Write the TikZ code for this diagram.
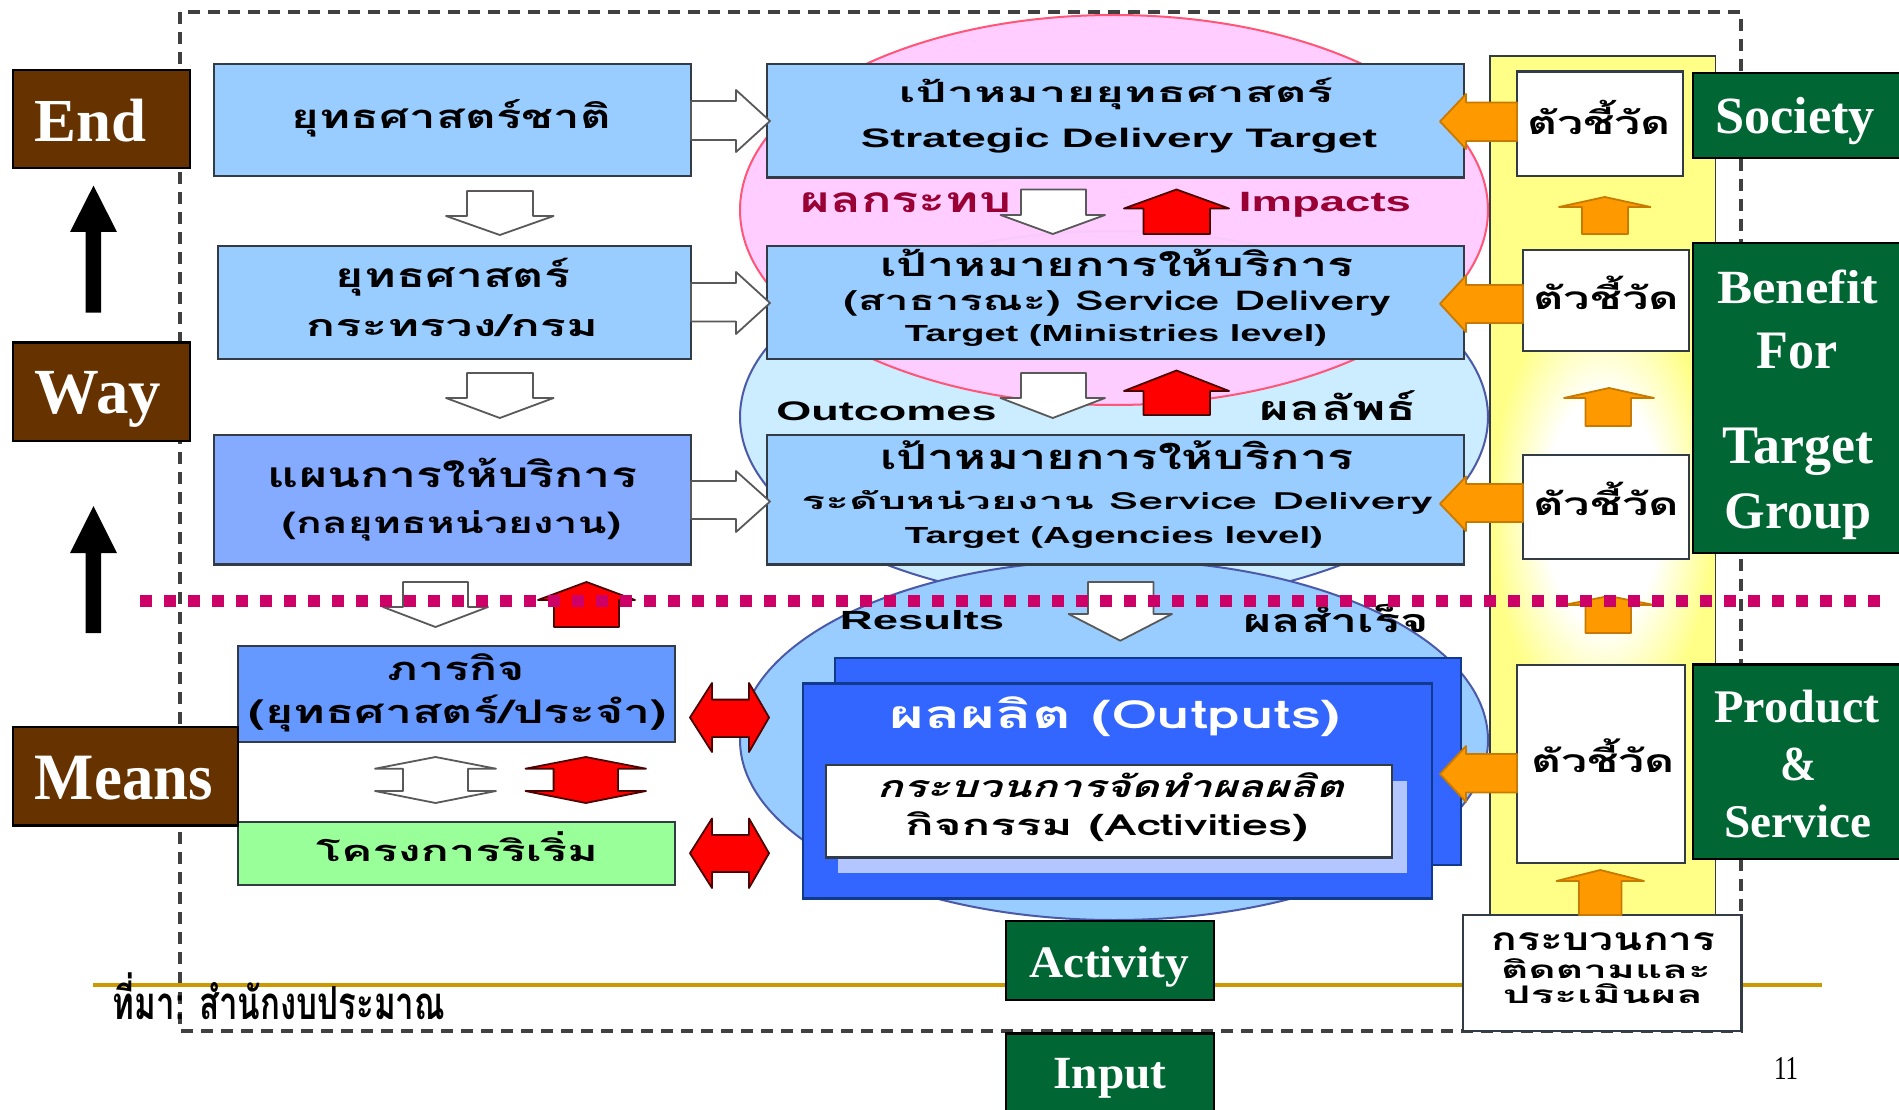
\documentclass[tikz,border=0pt]{standalone}
\usepackage{fontspec}
\usepackage{graphicx}
\setmainfont{Liberation Serif}
\newfontfamily\thaib[Script=Thai]{Loma}
\newfontfamily\thais[Script=Thai,FakeSlant=0.22]{Loma}
\newfontfamily\latb{Liberation Sans}
\definecolor{brownbox}{HTML}{663300}
\definecolor{greenbox}{HTML}{006633}
\definecolor{bluea}{HTML}{99CCFF}
\definecolor{blueb}{HTML}{84ABFF}
\definecolor{bluec}{HTML}{6699FF}
\definecolor{greenb}{HTML}{99FF99}
\definecolor{pinkell}{HTML}{FFCCFF}
\definecolor{pinkline}{HTML}{FF5577}
\definecolor{skyell}{HTML}{CCECFF}
\definecolor{ellline}{HTML}{4A5AA8}
\definecolor{outblue}{HTML}{3366FF}
\definecolor{outline}{HTML}{123A8C}
\definecolor{shadeblue}{HTML}{B3C6FF}
\definecolor{orangea}{HTML}{FF9900}
\definecolor{orangeb}{HTML}{C87A00}
\definecolor{yel}{HTML}{FFFF88}
\definecolor{magline}{HTML}{CC0066}
\definecolor{goldline}{HTML}{CC9900}
\definecolor{boxline}{HTML}{333B44}
\definecolor{impred}{HTML}{990033}
\pgfdeclareradialshading{colfade}{\pgfpoint{0bp}{0bp}}{color(0bp)=(white);color(13bp)=(white);color(25bp)=(yel);color(50bp)=(yel)}
\newcommand{\NBx}[6]{\node[boxbase,#2,minimum width={#5-#3},minimum height={#6-#4}] (#1) at ({(#3+#5)/2},{(#4+#6)/2}) {};}
% optional font; name, centre x, centre y, width, height, text
\newcommand{\Tx}[7][\thaib\bfseries]{\node[txtbase] (#2) at (#3,#4) {\resizebox*{#5pt}{#6pt}{#1#7}};}
\newcommand{\WTx}[6]{\node[txtbase,text=white] (#1) at (#2,#3) {\resizebox*{#4pt}{#5pt}{\bfseries #6}};}
\newcommand{\VArrow}[8]{\draw[#1] (#2,#6)--(#3,#6)--(#3,#7)--(#5,#7)--({(#4+#5)/2},#8)--(#4,#7)--(#2,#7)--cycle;}
\newcommand{\HArrow}[8]{\draw[#1] (#6,#2)--(#6,#3)--(#7,#3)--(#7,#5)--(#8,{(#4+#5)/2})--(#7,#4)--(#7,#2)--cycle;}
\newcommand{\HDouble}[9]{\draw[#1] (#4,#2)--(#5,#2)--(#5,#6)--(#7,{(#6+#9)/2})--(#5,#9)--(#5,#3)--(#4,#3)--(#4,#9)--(#8,{(#6+#9)/2})--(#4,#6)--cycle;}
\newcommand{\VDouble}[9]{\draw[#1] (#2,#4)--(#2,#5)--(#6,#5)--({(#6+#9)/2},#7)--(#9,#5)--(#3,#5)--(#3,#4)--(#9,#4)--({(#6+#9)/2},#8)--(#6,#4)--cycle;}
\tikzset{
 boxbase/.style={draw=boxline,line width=2.4pt,inner sep=0pt,outer sep=0pt},
 txtbase/.style={inner sep=0pt,outer sep=0pt,text=black},
 brownnode/.style={draw=black,line width=2.2pt,fill=brownbox,inner sep=0pt,outer sep=0pt},
 greennode/.style={draw=black,line width=2.2pt,fill=greenbox,inner sep=0pt,outer sep=0pt},
 whitearrow/.style={draw=black!65,fill=white,line width=1.8pt,line join=round},
 redarrow/.style={draw=black!70!red,fill=red,line width=1.8pt,line join=round},
 orangearrow/.style={draw=orangeb,fill=orangea,line width=1.8pt,line join=round},
 blackarrow/.style={draw=none,fill=black},
 indicator/.style={fill=white,draw=boxline},
}
\begin{document}
\begin{tikzpicture}[x=1pt,y=-1pt]
\useasboundingbox (0,0) rectangle (1899,1110);
\fill[white] (0,0) rectangle (1899,1110);
% frame and rule
\draw[black!75,line width=3.5pt,dash pattern=on 12pt off 8pt] (180,12) rectangle (1741,1031);
\coordinate (ruleL) at (93,985);
\coordinate (ruleR) at (1822,985);
\draw[goldline,line width=4pt] (ruleL) -- (ruleR);
% ellipses
\draw[ellline,line width=2pt,fill=skyell] (1114,417) ellipse [x radius=374,y radius=186];
\draw[ellline,line width=2pt,fill=bluea] (1114,740) ellipse [x radius=374,y radius=180];
\draw[pinkline,line width=2pt,fill=pinkell,fill opacity=0.97] (1114,210) ellipse [x radius=374,y radius=195];
% yellow column
\fill[yel] (1490,56) rectangle (1715.5,915);
\shade[shading=colfade] (1491,290) rectangle (1714.5,730);
\draw[boxline,line width=1.8pt] (1490,915) -- (1490,56) -- (1715.5,56) -- (1715.5,915);
% left column boxes
\NBx{b1}{fill=bluea}{214}{64}{691}{176}
\NBx{b2}{fill=bluea}{218}{246}{691}{359}
\NBx{b3}{fill=blueb}{214}{435}{691}{564.5}
\NBx{b4}{fill=bluec}{238}{646}{675}{742}
\NBx{b5}{fill=greenb}{238}{822}{675}{885}
% centre boxes
\NBx{m1}{fill=bluea}{767}{64}{1464}{177.5}
\NBx{m2}{fill=bluea}{767}{246}{1464}{359}
\NBx{m3}{fill=bluea}{767}{435}{1464}{564.5}
% outputs
\NBx{oback}{fill=outblue,draw=outline}{835}{658}{1461}{865}
\NBx{ofront}{fill=outblue,draw=outline}{803}{683.5}{1432}{898.5}
\fill[shadeblue] (838,781) rectangle (1407,873);
\NBx{oinner}{fill=white}{826}{765}{1392}{857.5}
% indicators
\NBx{i1}{indicator}{1517}{71.5}{1683}{176}
\NBx{i2}{indicator}{1523}{250}{1689}{351}
\NBx{i3}{indicator}{1523}{455}{1689}{559}
\NBx{i4}{indicator}{1517}{665}{1685}{863}
\NBx{proc}{indicator}{1463}{915}{1741.5}{1030.7}
% black arrows
\VArrow{blackarrow}{85.7}{101}{70}{117}{312.7}{232}{185.6}
\VArrow{blackarrow}{85.7}{101}{70}{117}{633}{553}{506}
% white arrows between left boxes
\VArrow{whitearrow}{467}{533}{446}{553.6}{191}{216}{235}
\VArrow{whitearrow}{467}{533}{446}{553.6}{373}{398}{418}
\VArrow{whitearrow}{403}{468}{383}{488}{582}{607}{627}
\VArrow{redarrow}{554}{619}{538}{635}{627}{600}{582}
% right arrows
\HArrow{whitearrow}{101}{140}{90}{152}{691}{736}{770}
\HArrow{whitearrow}{283}{321.5}{272}{334}{691}{736}{770}
\HArrow{whitearrow}{481}{519}{471}{532}{691}{736}{770}
% centre flows
\VArrow{whitearrow}{1021}{1086}{1000.5}{1105}{189.5}{215}{234}
\VArrow{redarrow}{1143.5}{1210}{1124}{1229}{234}{208.5}{189.5}
\VArrow{whitearrow}{1021}{1086}{1000.5}{1105}{373}{398}{418}
\VArrow{redarrow}{1143.5}{1210}{1124}{1229}{415}{391}{370.5}
\VArrow{whitearrow}{1088}{1153.5}{1068.6}{1172}{582}{614}{640.7}
% double arrows
\HDouble{redarrow}{699.6}{737}{712}{749}{683}{769}{690}{752}
\HDouble{redarrow}{835}{872}{712}{749}{818.5}{769}{690}{888}
\VDouble{whitearrow}{403}{468}{791}{768.7}{375}{757}{803}{496}
\VDouble{redarrow}{553.6}{618}{791}{768.7}{525.5}{757}{803}{646}
% orange arrows
\HArrow{orangearrow}{102.5}{141}{94}{149}{1517}{1466}{1440}
\HArrow{orangearrow}{285}{323}{275.5}{332}{1523}{1466}{1440}
\HArrow{orangearrow}{484}{522}{476.5}{531}{1523}{1466}{1440}
\HArrow{orangearrow}{754}{792.5}{746}{802}{1517}{1466}{1440}
\VArrow{orangearrow}{1582}{1628}{1559}{1650.5}{234}{207}{197}
\VArrow{orangearrow}{1585.5}{1631}{1564}{1654}{426}{398}{388}
\VArrow{orangearrow}{1585.5}{1631}{1564}{1654}{633}{605}{596}
\VArrow{orangearrow}{1579}{1621.5}{1556.5}{1644}{915}{881}{870}
% brown boxes
\node[brownnode,minimum width=177,minimum height=98] (end) at (101.5,119) {};
\node[brownnode,minimum width=177,minimum height=98.5] (way) at (101.5,391.7) {};
\node[brownnode,minimum width=225,minimum height=98.5] (means) at (125.5,776.2) {};
\WTx{endt}{91}{121}{112}{43}{End}
\WTx{wayt}{98}{399}{126}{56}{Way}
\WTx{meanst}{124}{778}{178}{44}{Means}
% green boxes
\node[greennode,minimum width=212,minimum height=85] (society) at (1799,115.5) {};
\node[greennode,minimum width=212,minimum height=310] (benefit) at (1799,398) {};
\node[greennode,minimum width=212,minimum height=194.5] (product) at (1799,761.7) {};
\node[greennode,minimum width=208,minimum height=79] (activity) at (1110,960.5) {};
\node[greennode,minimum width=208,minimum height=85] (input) at (1110,1076) {};
\WTx{societyt}{1795}{121}{160}{47.5}{Society}
\WTx{benefitt}{1797.7}{287}{161}{34}{Benefit}
\WTx{fort}{1797}{351}{81}{36}{For}
\WTx{targett}{1798}{452}{151}{47.5}{Target}
\WTx{groupt}{1798}{517}{147}{46}{Group}
\WTx{productt}{1797}{706.5}{165}{33}{Product}
\WTx{ampt}{1798}{764}{36}{33}{\&}
\WTx{servicet}{1798}{821}{147}{33}{Service}
\WTx{activityt}{1109}{966.5}{160}{41}{Activity}
\WTx{inputt}{1110}{1078}{113}{40}{Input}
% left column texts
\Tx{t1}{451.5}{118}{319}{37.5}{ยุทธศาสตร์ชาติ}
\Tx{t2a}{453}{277.5}{234}{38}{ยุทธศาสตร์}
\Tx{t2b}{452}{326}{292}{22}{กระทรวง/กรม}
\Tx{t3a}{452.5}{473}{369}{29.5}{แผนการให้บริการ}
\Tx{t3b}{451.5}{526}{339}{30.5}{(กลยุทธหน่วยงาน)}
\Tx{t4a}{456.5}{667.5}{137}{27}{ภารกิจ}
\Tx{t4b}{458}{713.5}{418}{37}{(ยุทธศาสตร์/ประจำ)}
\Tx{t5}{457}{847}{282}{30}{โครงการริเริ่ม}
% centre texts
\Tx{m1a}{1116}{94.3}{434}{31.8}{เป้าหมายยุทธศาสตร์}
\Tx[\latb\bfseries]{m1b}{1119}{140.5}{516}{25}{Strategic Delivery Target}
\Tx{m2a}{1117}{262.6}{474}{27.5}{เป้าหมายการให้บริการ}
\Tx{m2b}{1117}{303}{547}{25.6}{(สาธารณะ) Service Delivery}
\Tx[\latb\bfseries]{m2c}{1116}{335.4}{422}{21.8}{Target (Ministries level)}
\Tx{m3a}{1117}{455.5}{474}{29}{เป้าหมายการให้บริการ}
\Tx{m3b}{1117}{502}{631}{24}{ระดับหน่วยงาน Service Delivery}
\Tx[\latb\bfseries]{m3c}{1114}{538}{418}{21.8}{Target (Agencies level)}
\node[txtbase,text=impred] (imp1) at (906,202.5) {\resizebox*{211pt}{20pt}{\thaib\bfseries ผลกระทบ}};
\node[txtbase,text=impred] (imp2) at (1325,205) {\resizebox*{172pt}{25pt}{\latb\bfseries Impacts}};
\Tx[\latb\bfseries]{oc1}{886.5}{411.5}{220}{19}{Outcomes}
\Tx{oc2}{1338.5}{406}{157}{30}{ผลลัพธ์}
\Tx[\latb\bfseries]{rs1}{922}{620.5}{164}{19.3}{Results}
\Tx{rs2}{1336}{618}{186}{30}{ผลสำเร็จ}
\node[txtbase,text=white] (ot) at (1115,717) {\resizebox*{452pt}{40pt}{\thaib\bfseries ผลผลิต (Outputs)}};
\Tx[\thais\bfseries]{act1}{1110.5}{785}{467}{25}{กระบวนการจัดทำผลผลิต}
\Tx{act2}{1106.5}{827}{403}{30}{กิจกรรม (Activities)}
% indicator texts
\Tx{it1}{1599}{117}{144}{34.5}{ตัวชี้วัด}
\Tx{it2}{1606}{292.5}{146}{33.7}{ตัวชี้วัด}
\Tx{it3}{1606}{498.5}{146}{33.7}{ตัวชี้วัด}
\Tx{it4}{1603}{756}{144}{34}{ตัวชี้วัด}
\Tx{pr1}{1603.5}{942}{224}{18}{กระบวนการ}
\Tx{pr2}{1606}{969}{210}{20}{ติดตามและ}
\Tx{pr3}{1603}{994}{200}{20}{ประเมินผล}
% source and page number
\node[txtbase] (src) at (279,996.6) {\resizebox*{332pt}{47pt}{\thaib\bfseries ที่มา: สำนักงบประมาณ}};
\node[txtbase] (pageno) at (1786,1068) {\resizebox*{24pt}{22pt}{11}};
% dotted line
\coordinate (dotL) at (140,601);
\coordinate (dotR) at (1881,601);
\draw[magline,line width=11.6pt,dash pattern=on 12pt off 12pt] (dotL) -- (dotR);
\end{tikzpicture}
\end{document}
